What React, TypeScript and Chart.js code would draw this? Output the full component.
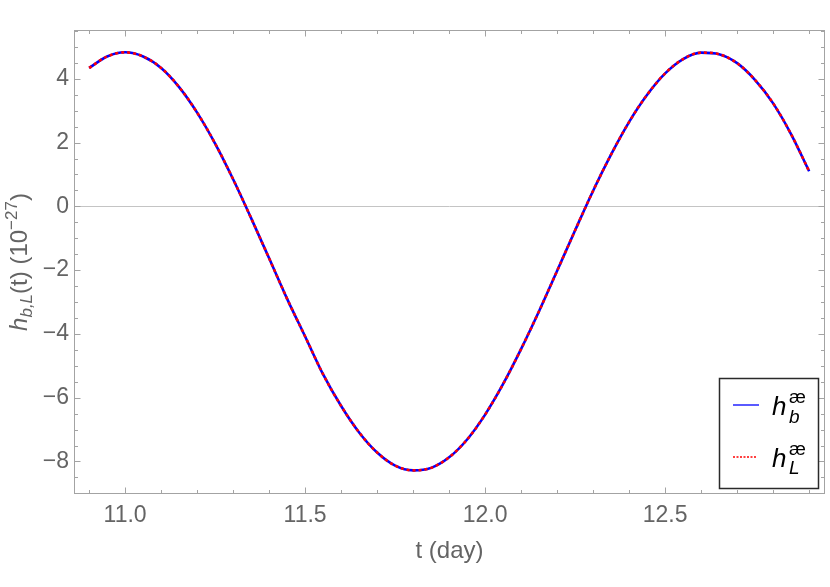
import React, { useEffect, useRef } from "react";
import { Chart, registerables } from "chart.js";

Chart.register(...registerables);

// time in days
const tValues = [
  10.9, 10.95, 11.0, 11.05, 11.1, 11.15, 11.2, 11.25, 11.3, 11.35, 11.4,
  11.45, 11.5, 11.55, 11.6, 11.65, 11.7, 11.75, 11.8, 11.85, 11.9, 11.95,
  12.0, 12.05, 12.1, 12.15, 12.2, 12.25, 12.3, 12.35, 12.4, 12.45, 12.5,
  12.55, 12.6, 12.65, 12.7, 12.75, 12.8, 12.85, 12.9,
];
// h_b (10^-27)
const hbValues = [
  4.34, 4.7, 4.83, 4.7, 4.34, 3.74, 2.94, 1.97, 0.85, -0.37, -1.63,
  -2.9, -4.08, -5.27, -6.26, -7.09, -7.72, -8.13, -8.28, -8.2, -7.87, -7.31,
  -6.53, -5.57, -4.47, -3.28, -2.02, -0.75, 0.49, 1.63, 2.65, 3.5, 4.17,
  4.62, 4.82, 4.77, 4.49, 3.96, 3.23, 2.26, 1.1,
];
// h_L (10^-27)
const hLValues = [
  4.34, 4.7, 4.83, 4.7, 4.34, 3.74, 2.94, 1.97, 0.85, -0.37, -1.63,
  -2.9, -4.08, -5.27, -6.26, -7.09, -7.72, -8.13, -8.28, -8.2, -7.87, -7.31,
  -6.53, -5.57, -4.47, -3.28, -2.02, -0.75, 0.49, 1.63, 2.65, 3.5, 4.17,
  4.62, 4.82, 4.77, 4.49, 3.96, 3.23, 2.26, 1.1,
];

const xTickValues = [11.0, 11.5, 12.0, 12.5];
const yTickValues = [-8, -6, -4, -2, 0, 2, 4];
const xMinorTicks = [10.9, 11.1, 11.2, 11.3, 11.4, 11.6, 11.7, 11.8, 11.9, 12.1, 12.2, 12.3, 12.4, 12.6, 12.7, 12.8, 12.9];
const yMinorTicks = [-9, -8.5, -7.5, -7, -6.5, -5.5, -5, -4.5, -3.5, -3, -2.5, -1.5, -1, -0.5, 0.5, 1, 1.5, 2.5, 3, 3.5, 4.5, 5, 5.5];

const FONT = "'Liberation Sans', Arial, sans-serif";
const FRAME = "#a3a3a3";
const TEXT = "#646464";

function drawRich(ctx: CanvasRenderingContext2D, segs: any[], x: number, y: number, align: "center" | "left") {
  let total = 0;
  for (const s of segs) {
    ctx.font = s.font;
    total += ctx.measureText(s.text).width;
  }
  let cx = align === "center" ? x - total / 2 : x;
  for (const s of segs) {
    ctx.font = s.font;
    ctx.fillText(s.text, cx, y + (s.dy || 0));
    cx += ctx.measureText(s.text).width;
  }
}

const framePlugin = {
  id: "mmaFrame",
  beforeDatasetsDraw(chart: any) {
    const { ctx, chartArea } = chart;
    const ys = chart.scales.y;
    const y0 = Math.round(ys.getPixelForValue(0)) + 0.5;
    ctx.save();
    ctx.strokeStyle = "#c4c4c4";
    ctx.lineWidth = 1;
    ctx.beginPath();
    ctx.moveTo(chartArea.left, y0);
    ctx.lineTo(chartArea.right, y0);
    ctx.stroke();
    ctx.restore();
  },
  afterDatasetsDraw(chart: any) {
    const { ctx, chartArea } = chart;
    const xs = chart.scales.x;
    const ys = chart.scales.y;
    const L = chartArea.left + 0.5;
    const R = chartArea.right - 0.5;
    const T = chartArea.top + 0.5;
    const B = chartArea.bottom - 0.5;
    ctx.save();
    ctx.strokeStyle = FRAME;
    ctx.lineWidth = 1;
    ctx.strokeRect(L, T, R - L, B - T);
    ctx.beginPath();
    const xt = (v: number, len: number) => {
      const px = Math.round(xs.getPixelForValue(v)) + 0.5;
      ctx.moveTo(px, B);
      ctx.lineTo(px, B - len);
      ctx.moveTo(px, T);
      ctx.lineTo(px, T + len);
    };
    const yt = (v: number, len: number) => {
      const py = Math.round(ys.getPixelForValue(v)) + 0.5;
      ctx.moveTo(L, py);
      ctx.lineTo(L + len, py);
      ctx.moveTo(R, py);
      ctx.lineTo(R - len, py);
    };
    xTickValues.forEach((v) => xt(v, 6));
    xMinorTicks.forEach((v) => xt(v, 3.5));
    yTickValues.forEach((v) => yt(v, 6));
    yMinorTicks.forEach((v) => yt(v, 3.5));
    ctx.stroke();

    // axis titles
    ctx.fillStyle = TEXT;
    ctx.textBaseline = "alphabetic";
    ctx.textAlign = "left";
    drawRich(ctx, [{ text: "t (day)", font: `24px ${FONT}` }], (chartArea.left + chartArea.right) / 2, 558, "center");

    ctx.save();
    ctx.translate(27, (chartArea.top + chartArea.bottom) / 2);
    ctx.rotate(-Math.PI / 2);
    drawRich(
      ctx,
      [
        { text: "h", font: `italic 24px ${FONT}` },
        { text: "b,L", font: `italic 17px ${FONT}`, dy: 5 },
        { text: "(t) (10", font: `24px ${FONT}` },
        { text: "\u221227", font: `17px ${FONT}`, dy: -10 },
        { text: ")", font: `24px ${FONT}` },
      ],
      0,
      0,
      "center"
    );
    ctx.restore();

    // legend
    ctx.fillStyle = "#ffffff";
    ctx.fillRect(719.5, 378.5, 99, 110);
    ctx.strokeStyle = "#2a2a2a";
    ctx.lineWidth = 1.5;
    ctx.strokeRect(719.5, 378.5, 99, 110);

    ctx.lineWidth = 1.3;
    ctx.strokeStyle = "#0000ff";
    ctx.beginPath();
    ctx.moveTo(733, 405);
    ctx.lineTo(759, 405);
    ctx.stroke();
    ctx.strokeStyle = "#ff0000";
    ctx.setLineDash([2, 1.5]);
    ctx.beginPath();
    ctx.moveTo(733, 457);
    ctx.lineTo(757, 457);
    ctx.stroke();
    ctx.setLineDash([]);

    ctx.fillStyle = "#000000";
    ctx.font = `italic 26px ${FONT}`;
    ctx.fillText("h", 772, 415);
    ctx.fillText("h", 772, 467);
    ctx.font = `19px ${FONT}`;
    ctx.fillText("\u00e6", 789, 403);
    ctx.fillText("\u00e6", 789, 455);
    ctx.font = `italic 19px ${FONT}`;
    ctx.fillText("b", 789, 423);
    ctx.fillText("L", 789, 474);
    ctx.restore();
  },
};

export default function App() {
  const canvasRef = useRef<HTMLCanvasElement | null>(null);

  useEffect(() => {
    if (!canvasRef.current) return;
    const hb = tValues.map((t, i) => ({ x: t, y: hbValues[i] }));
    const hl = tValues.map((t, i) => ({ x: t, y: hLValues[i] }));
    const chart = new Chart(canvasRef.current, {
      type: "line",
      data: {
        datasets: [
          {
            label: "hL",
            data: hl,
            borderColor: "#ff0000",
            borderWidth: 2.6,
            borderDash: [3, 3],
            pointRadius: 0,
            cubicInterpolationMode: "monotone",
            fill: false,
            order: 0,
          },
          {
            label: "hb",
            data: hb,
            borderColor: "#0000ff",
            borderWidth: 2.6,
            pointRadius: 0,
            cubicInterpolationMode: "monotone",
            fill: false,
            order: 1,
          },
        ],
      },
      options: {
        animation: false,
        responsive: false,
        devicePixelRatio: 1,
        layout: { padding: { left: 0, top: 30, right: 5, bottom: 0 } },
        plugins: { legend: { display: false }, tooltip: { enabled: false } },
        scales: {
          x: {
            type: "linear",
            min: 10.858,
            max: 12.944,
            afterBuildTicks: (s: any) => {
              s.ticks = xTickValues.map((v) => ({ value: v }));
            },
            afterFit: (s: any) => {
              s.height = 93;
            },
            ticks: {
              callback: (v: any) => Number(v).toFixed(1),
              font: { size: 23, family: FONT },
              color: TEXT,
              padding: 8,
              maxRotation: 0,
              autoSkip: false,
            },
            grid: { display: false, drawTicks: false },
            border: { display: false },
          },
          y: {
            type: "linear",
            min: -9.02,
            max: 5.53,
            afterBuildTicks: (s: any) => {
              s.ticks = yTickValues.map((v) => ({ value: v }));
            },
            afterFit: (s: any) => {
              s.width = 74;
            },
            ticks: {
              callback: (v: any) => (Number(v) < 0 ? "\u2212" + Math.abs(Number(v)) : String(v)),
              font: { size: 23, family: FONT },
              color: TEXT,
              padding: 5,
              autoSkip: false,
            },
            grid: { display: false, drawTicks: false },
            border: { display: false },
          },
        },
      },
      plugins: [framePlugin],
    } as any);
    return () => chart.destroy();
  }, []);

  return (
    <div style={{ position: "fixed", left: 0, top: 0, width: 830, height: 587, background: "#ffffff" }}>
      <canvas ref={canvasRef} width={830} height={587} style={{ display: "block", width: 830, height: 587 }} />
    </div>
  );
}
